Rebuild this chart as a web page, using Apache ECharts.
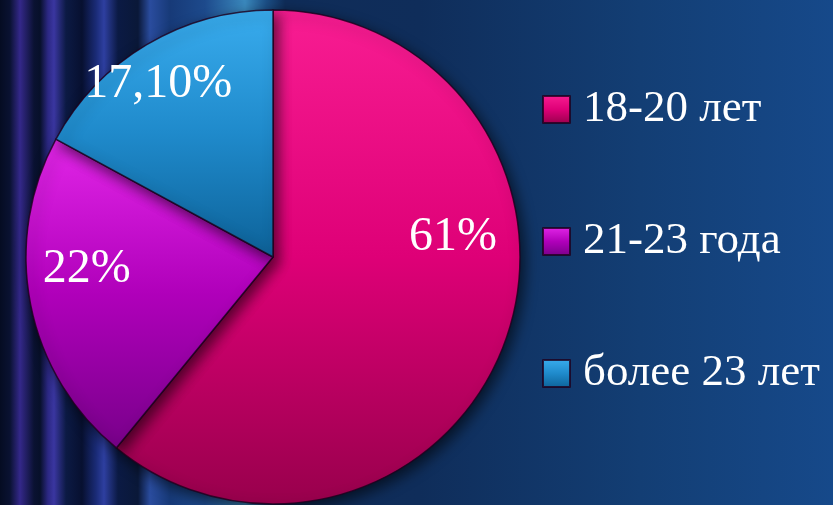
<!DOCTYPE html>
<html>
<head>
<meta charset="utf-8">
<script src="https://cdn.jsdelivr.net/npm/echarts@6/dist/echarts.min.js"></script>
<style>
  html, body { margin: 0; padding: 0; }
  #chart {
    width: 833px; height: 505px;
    background:
      linear-gradient(to right,
        #050c22 0px, #0a1232 10px, #34288a 20px, #0a1232 34px, #07102a 40px,
        #2c2884 48px, #3a36a0 54px, #0c1a44 66px, #071030 82px, #1a2b76 96px,
        #2e3fa0 104px, #0b1a44 118px, #0a1838 138px, #2a4c9e 150px, #173a78 170px,
        #1d4a8c 205px, #3a88bc 245px, #1c4f86 266px, #0f2c58 285px,
        #0f2d5a 420px, #133e74 640px, #16498a 833px);
  }
</style>
</head>
<body>
<div id="chart"></div>
<script>
// pie data
const categories = ['18-20 лет', '21-23 года', 'более 23 лет'];
const values = [61, 22, 17.1];
const labelTexts = ['61%', '22%', '17,10%'];

// slice colours: [top, middle, bottom]
const sliceColors = [
  ['#f81d92', '#de0077', '#98004c'],
  ['#e226e8', '#b000ba', '#78008a'],
  ['#39acee', '#1f8acb', '#0d6299']
];
// nudges so labels sit where the original put them
const labelNudge = [[61, -62], [-62, -12], [-50, -64]];

const chart = echarts.init(document.getElementById('chart'));

function grad(c) {
  return new echarts.graphic.LinearGradient(0, 0, 0, 1, [
    { offset: 0, color: c[0] },
    { offset: 0.5, color: c[1] },
    { offset: 1, color: c[2] }
  ]);
}

const option = {
  backgroundColor: 'transparent',
  legend: {
    orient: 'vertical',
    left: 542,
    top: 87,
    padding: 0,
    itemWidth: 27,
    itemHeight: 27,
    itemGap: 87,
    icon: 'rect',
    selectedMode: false,
    textStyle: {
      color: '#ffffff',
      fontFamily: 'Liberation Serif',
      fontSize: 45,
      lineHeight: 44,
      padding: [0, 0, 0, 8]
    },
    data: categories
  },
  series: [{
    type: 'pie',
    center: [273, 257],
    radius: [0, 247],
    startAngle: 90,
    clockwise: true,
    avoidLabelOverlap: false,
    silent: true,
    itemStyle: {
      borderColor: 'rgba(30,0,30,0.8)',
      borderWidth: 1.5,
      shadowBlur: 14,
      shadowColor: 'rgba(0,0,0,0.6)',
      shadowOffsetX: 4,
      shadowOffsetY: 5
    },
    label: {
      show: true,
      position: 'inside',
      color: '#ffffff',
      fontFamily: 'Liberation Serif',
      fontSize: 48,
      formatter: p => labelTexts[p.dataIndex]
    },
    labelLine: { show: false },
    labelLayout: p => ({ dx: labelNudge[p.dataIndex][0], dy: labelNudge[p.dataIndex][1] }),
    data: categories.map((name, i) => ({
      name: name,
      value: values[i],
      itemStyle: { color: grad(sliceColors[i]) }
    }))
  }]
};

chart.setOption(option);
</script>
</body>
</html>
